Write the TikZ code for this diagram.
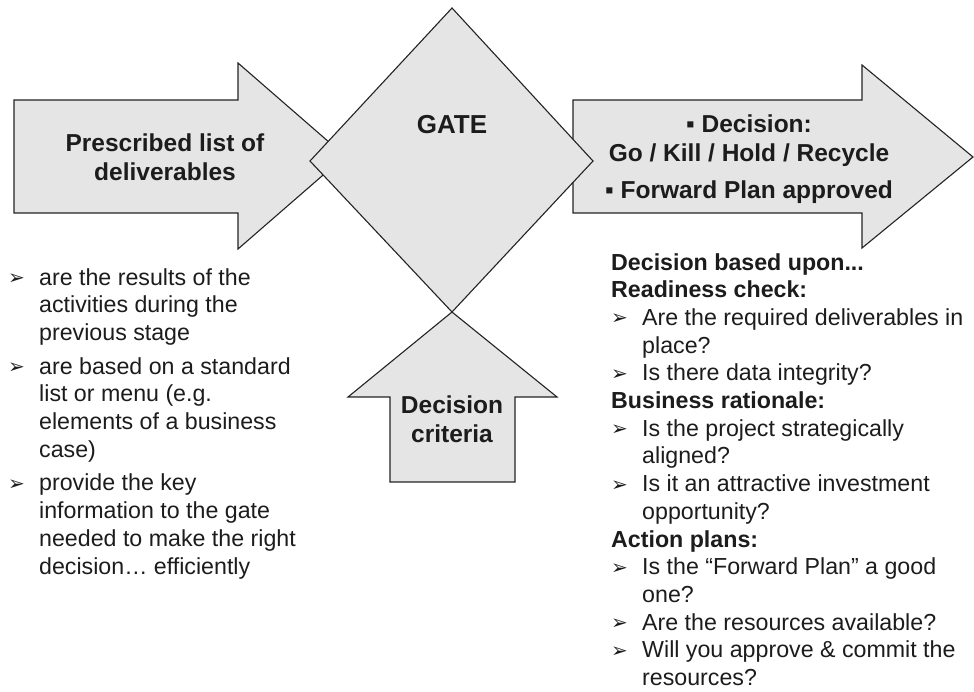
\documentclass[tikz,border=0pt]{standalone}
\usepackage{fontspec}
\setmainfont{Liberation Sans}
\newfontfamily\symfont{DejaVu Sans}
\definecolor{shapefill}{RGB}{229,229,229}
\definecolor{edge}{RGB}{35,35,35}
\definecolor{ink}{RGB}{28,28,28}

% arrowhead bullet and hanging list items
\newcommand{\mk}{\raisebox{0.5pt}{\symfont\fontsize{20}{20}\selectfont ➢}}
\newcommand{\mkitem}[1]{\par\hangindent=31pt\hangafter=1\noindent\makebox[31pt][l]{\mk}#1\par}
\newcommand{\mkhead}[1]{\par\noindent\textbf{#1}\par}

\begin{document}
\begin{tikzpicture}[x=1pt,y=-1pt,
  shapebox/.style={fill=shapefill, draw=edge, line width=1.1pt, line join=miter},
  shapelabel/.style={font=\fontsize{24.5}{29}\selectfont\bfseries, text=ink, align=center, inner sep=0pt},
  listtext/.style={font=\fontsize{23.2}{27.7}\selectfont, text=ink, inner sep=0pt, anchor=base west}]
\useasboundingbox (0,0) rectangle (974,691);

% incoming deliverables arrow
\draw[shapebox] (14,100) -- (238,100) -- (238,63) -- (345,156) -- (238,249)
  -- (238,213) -- (14,213) -- cycle;
% outgoing decision arrow
\draw[shapebox] (573,100) -- (862,100) -- (862,65) -- (973,157) -- (862,248)
  -- (862,213) -- (573,213) -- cycle;
% criteria arrow pointing up
\draw[shapebox] (390,482) -- (390,397) -- (348,397) -- (452,312) -- (557,397)
  -- (515,397) -- (515,482) -- cycle;
% the gate
\draw[shapebox] (452,8) -- (593,161) -- (452,312) -- (310,161) -- cycle;

% labels inside the shapes
\node[shapelabel] (deliverables) at (165,157) {Prescribed list of\\deliverables};
\node[shapelabel, font=\fontsize{26}{30}\selectfont\bfseries, anchor=base] (gate) at (452,133) {GATE};
\node[shapelabel] (outcome) at (749,159) {▪ Decision:\\Go / Kill / Hold / Recycle\\[8pt]▪ Forward Plan approved};
\node[shapelabel] (criteria) at (452,419) {Decision\\criteria};

% notes on the deliverables
\node[listtext] (leftnotes) at (8,285) {\parbox[t]{420pt}{\parindent=0pt\parskip=6pt
  \mkitem{are the results of the\\activities during the\\previous stage}
  \mkitem{are based on a standard\\list or menu (e.g.\\elements of a business\\case)}
  \mkitem{provide the key\\information to the gate\\needed to make the right\\decision… efficiently}}};

% notes on the decision
\node[listtext] (rightnotes) at (611,270) {\parbox[t]{420pt}{\parindent=0pt\parskip=0pt
  \mkhead{Decision based upon...}
  \mkhead{Readiness check:}
  \mkitem{Are the required deliverables in\\place?}
  \mkitem{Is there data integrity?}
  \mkhead{Business rationale:}
  \mkitem{Is the project strategically\\aligned?}
  \mkitem{Is it an attractive investment\\opportunity?}
  \mkhead{Action plans:}
  \mkitem{Is the “Forward Plan” a good\\one?}
  \mkitem{Are the resources available?}
  \mkitem{Will you approve \& commit the\\resources?}}};
\end{tikzpicture}
\end{document}
